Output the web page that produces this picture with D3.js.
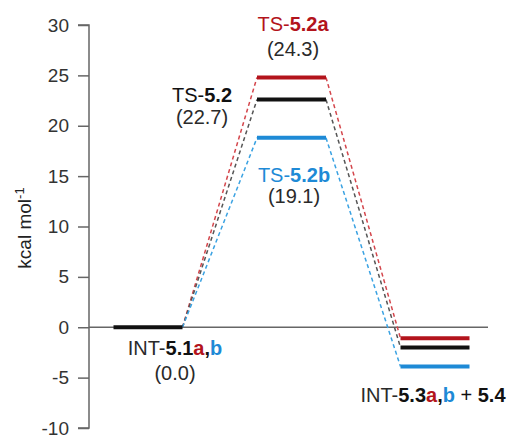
<!DOCTYPE html>
<html>
<head>
<meta charset="utf-8">
<script src="https://cdn.jsdelivr.net/npm/d3@7"></script>
<style>
  body { margin: 0; background: #fff; }
  svg { font-family: "Liberation Sans", Arial, sans-serif; }
</style>
</head>
<body>
<svg width="512" height="438"></svg>
<script>
// states along the reaction coordinate
const states = ["INT-5.1", "TS-5.2", "INT-5.3"];
// pathways: a (red), parent (black), b (blue)
const pathways = ["a", "parent", "b"];
const intStart = [0.0, 0.0, 0.0];
const tsEnergy = [24.8, 22.6, 18.8];
const intEnd = [-1.1, -2.0, -3.9];
const yTicks = [30, 25, 20, 15, 10, 5, 0, -5, -10];

const colors = { a: "#b3141c", parent: "#111111", b: "#1e8ad6" };
const dashColors = { a: "#d4464c", parent: "#555555", b: "#3aa2e2" };

const svg = d3.select("svg");
const y = d3.scaleLinear().domain([-10, 30]).range([428, 25]);
const x = d3.scalePoint().domain(states).range([148, 435]);
const half = 34.5;
const axisX = 89;

// y axis (plain hyphen for negatives, like the original)
const yAxis = d3.axisLeft(y).tickValues(yTicks).tickSize(11).tickPadding(9)
  .tickFormat(d => String(d));
const ga = svg.append("g").attr("transform", `translate(${axisX},0)`).call(yAxis);
ga.select(".domain").attr("stroke", "#666").attr("stroke-width", 1.5).attr("d", `M-11,${y(30)}H0V${y(-10)}H-11`);
ga.selectAll(".tick line").attr("stroke", "#666").attr("stroke-width", 1.5);
ga.selectAll(".tick text").attr("fill", "#333").attr("font-size", 19).attr("font-family", "Liberation Sans, Arial, sans-serif");

// zero line
svg.append("line")
  .attr("x1", axisX).attr("x2", 488)
  .attr("y1", y(0)).attr("y2", y(0))
  .attr("stroke", "#666").attr("stroke-width", 1.5);

// axis title
svg.append("text")
  .attr("transform", `translate(31,${228}) rotate(-90)`)
  .attr("text-anchor", "middle")
  .attr("font-size", 19)
  .attr("fill", "#222")
  .text("kcal mol")
  .append("tspan").attr("baseline-shift", "super").attr("font-size", 13).text("-1");

// dashed connectors
pathways.forEach((p, i) => {
  const pts = [
    [x("INT-5.1") + half, y(intStart[i]), x("TS-5.2") - half, y(tsEnergy[i])],
    [x("TS-5.2") + half, y(tsEnergy[i]), x("INT-5.3") - half, y(intEnd[i])]
  ];
  pts.forEach(c => {
    svg.append("line")
      .attr("x1", c[0]).attr("y1", c[1]).attr("x2", c[2]).attr("y2", c[3])
      .attr("stroke", dashColors[p]).attr("stroke-width", 1.5)
      .attr("stroke-dasharray", "4,3");
  });
});

// energy levels
function level(state, v, color) {
  svg.append("line")
    .attr("x1", x(state) - half).attr("x2", x(state) + half)
    .attr("y1", y(v)).attr("y2", y(v))
    .attr("stroke", color).attr("stroke-width", 4);
}
level("INT-5.1", intStart[0], colors.parent);
pathways.forEach((p, i) => level("TS-5.2", tsEnergy[i], colors[p]));
pathways.forEach((p, i) => level("INT-5.3", intEnd[i], colors[p]));

// labels
function label(cx, cy, parts) {
  const t = svg.append("text").attr("x", cx).attr("y", cy)
    .attr("text-anchor", "middle").attr("font-size", 20);
  parts.forEach(pt => {
    t.append("tspan").text(pt[0]).attr("fill", pt[1]).attr("font-weight", pt[2] ? "bold" : "normal");
  });
}
const grey = "#2a2a2a";
label(293, 31, [["TS-", colors.a, 0], ["5.2a", colors.a, 1]]);
label(293, 56, [["(24.3)", grey, 0]]);
label(202, 102, [["TS-", "#111", 0], ["5.2", "#111", 1]]);
label(202, 124, [["(22.7)", grey, 0]]);
label(294, 182, [["TS-", colors.b, 0], ["5.2b", colors.b, 1]]);
label(294, 203, [["(19.1)", grey, 0]]);
label(175, 355, [["INT-", grey, 0], ["5.1", "#111", 1], ["a", colors.a, 1], [",", "#111", 1], ["b", colors.b, 1]]);
label(175, 380, [["(0.0)", grey, 0]]);
label(433, 402, [["INT-", grey, 0], ["5.3", "#111", 1], ["a", colors.a, 1], [",", "#111", 1], ["b", colors.b, 1], [" + ", "#111", 0], ["5.4", "#111", 1]]);
</script>
</body>
</html>
